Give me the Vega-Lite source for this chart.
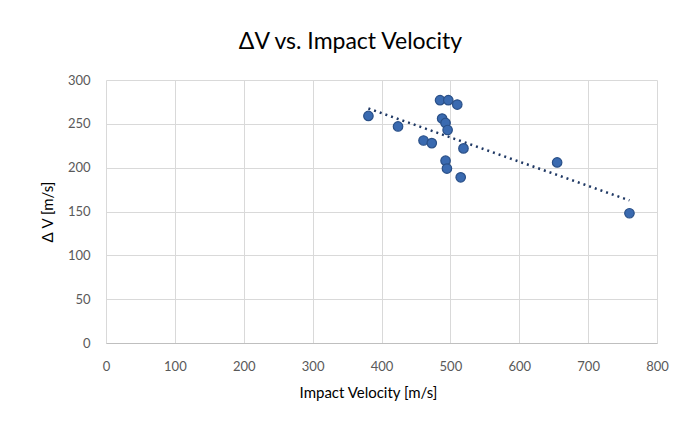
{
  "$schema": "https://vega.github.io/schema/vega-lite/v6.json",
  "autosize": {"type": "none"},
  "width": 551,
  "height": 263,
  "padding": {"left": 106, "top": 80, "right": 23, "bottom": 78},
  "background": "white",
  "title": {"text": "ΔV vs. Impact Velocity", "font": "Lato", "fontSize": 23, "fontWeight": "normal", "color": "#000000", "anchor": "middle", "dx": -31, "offset": 20},
  "config": {
    "view": {"stroke": null},
    "axis": {"labelFont": "Lato", "titleFont": "Lato", "labelFontSize": 13, "titleFontSize": 15, "labelColor": "#595959", "titleColor": "#000000", "titleFontWeight": "normal", "grid": true, "gridColor": "#d9d9d9", "gridWidth": 1, "ticks": false, "domain": false, "labelFlush": false}
  },
  "data": {"values": [
    {"v": 381, "dv": 259},
    {"v": 424, "dv": 247},
    {"v": 485, "dv": 277},
    {"v": 497, "dv": 277},
    {"v": 510, "dv": 272},
    {"v": 488, "dv": 256},
    {"v": 493, "dv": 251},
    {"v": 496, "dv": 243},
    {"v": 461, "dv": 231},
    {"v": 473, "dv": 228},
    {"v": 519, "dv": 222},
    {"v": 493, "dv": 208},
    {"v": 495, "dv": 199},
    {"v": 515, "dv": 189},
    {"v": 760, "dv": 148},
    {"v": 655, "dv": 206}
  ]},
  "layer": [
    {
      "transform": [{"regression": "dv", "on": "v"}],
      "mark": {"type": "line", "color": "#1f3864", "strokeWidth": 2.5, "strokeDash": [2, 4]},
      "encoding": {
        "x": {"field": "v", "type": "quantitative"},
        "y": {"field": "dv", "type": "quantitative"}
      }
    },
    {
      "mark": {"type": "circle", "size": 90, "color": "#3a6ab0", "opacity": 1, "stroke": "#2a5088", "strokeWidth": 1.2},
      "encoding": {
        "x": {"field": "v", "type": "quantitative", "scale": {"domain": [0, 800], "nice": false}, "axis": {"title": "Impact Velocity [m/s]", "values": [0,100,200,300,400,500,600,700,800], "labelPadding": 17, "titlePadding": 12, "titleX": 262, "domain": true, "domainColor": "#bfbfbf"}},
        "y": {"field": "dv", "type": "quantitative", "scale": {"domain": [0, 300], "nice": false}, "axis": {"title": "Δ V [m/s]", "values": [0,50,100,150,200,250,300], "labelPadding": 16, "titlePadding": 12}}
      }
    }
  ]
}
